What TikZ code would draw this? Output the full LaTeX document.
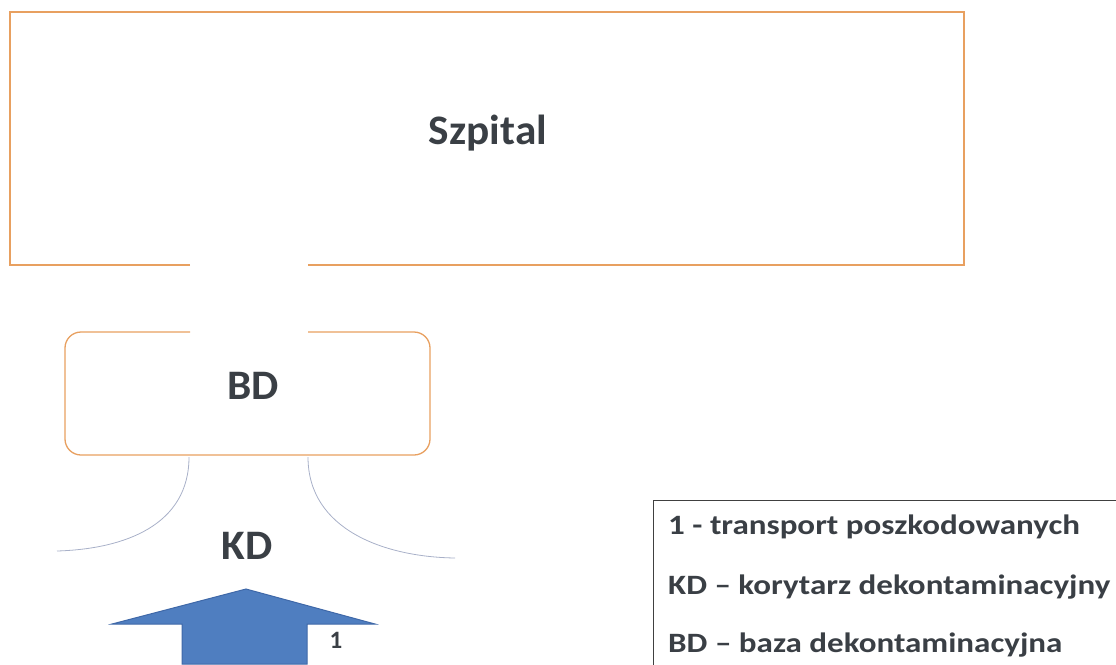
\documentclass[tikz,border=0pt]{standalone}
\usepackage{fontspec}
\setmainfont{Carlito}
\newfontfamily\legendfont[FakeStretch=1.18]{Carlito}
\newfontfamily\labelfont[FakeStretch=1.03]{Carlito}
\definecolor{wallorange}{HTML}{E8A060}
\definecolor{labelgray}{HTML}{3A3F45}
\definecolor{arrowblue}{HTML}{4F7EC0}
\definecolor{arrowedge}{HTML}{3F68A8}
\definecolor{corridor}{HTML}{A8B0C8}
\begin{document}
\begin{tikzpicture}[x=1pt,y=-1pt,
  wall/.style={draw=wallorange,line width=2.6pt},
  thinwall/.style={draw=wallorange,line width=1.3pt},
  curve/.style={draw=corridor,line width=0.8pt},
  biglabel/.style={text=labelgray,font=\labelfont\fontsize{42}{46}\selectfont\bfseries,inner sep=0pt},
  legendtext/.style={text=labelgray,font=\legendfont\fontsize{28}{32}\selectfont\bfseries,inner sep=0pt,anchor=west}]
\useasboundingbox (0,0) rectangle (1116,664);
% hospital outline with an opening in the bottom wall
\coordinate (hgapL) at (190,265);
\coordinate (hgapR) at (308,265);
\draw[wall,line join=miter] (hgapL) -- (10,265) -- (10,12) -- (964,12) -- (964,265) -- (hgapR);
\node[biglabel] (szpital) at (488,133) {Szpital};
% decontamination base: rounded box open at the top
\coordinate (bgapL) at (190,332);
\coordinate (bgapR) at (308,332);
\draw[thinwall,rounded corners=16pt] (bgapL) -- (65,332) -- (65,455) -- (430,455) -- (430,332) -- (bgapR);
\node[biglabel] (bd) at (253,386) {BD};
% decontamination corridor boundaries
\coordinate (cL0) at (189,457);
\coordinate (cL1) at (57,551);
\coordinate (cR0) at (308,457);
\coordinate (cR1) at (455,558);
\draw[curve] (cL0) .. controls (189,525) and (125,549) .. (cL1);
\draw[curve] (cR0) .. controls (308,530) and (385,557) .. (cR1);
\node[biglabel] (kd) at (247,546) {KD};
% transport arrow
\draw[fill=arrowblue,draw=arrowedge,line width=1pt,line join=miter]
  (246,589) -- (375,624) -- (307,624) -- (307,664) -- (182,664) -- (182,624) -- (112,624) -- cycle;
\node[text=labelgray,font=\fontsize{25}{27}\selectfont\bfseries,inner sep=0pt] (one) at (336,640) {1};
% legend
\draw[draw=black!75,line width=0.9pt] (1117,500) -- (653,500) -- (653,665);
\node[legendtext] (l1) at (668,527) {1 - transport poszkodowanych};
\node[legendtext] (l2) at (668,587) {KD – korytarz dekontaminacyjny};
\node[legendtext] (l3) at (668,645) {BD – baza dekontaminacyjna};
\end{tikzpicture}
\end{document}
